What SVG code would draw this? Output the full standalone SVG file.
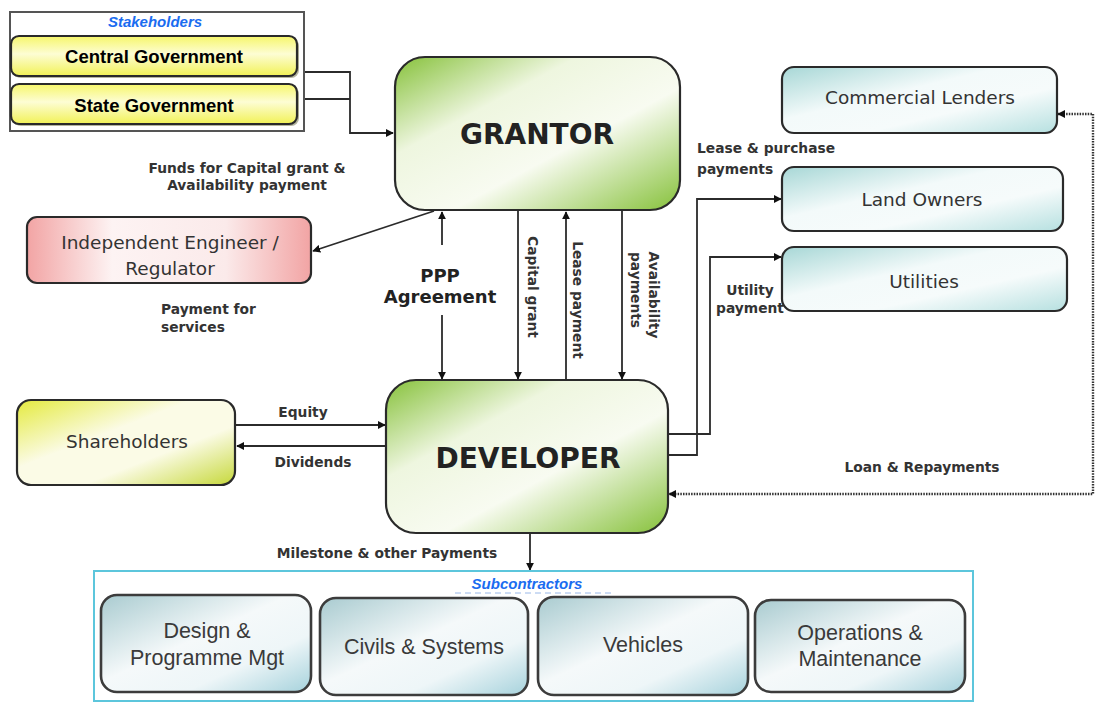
<svg xmlns="http://www.w3.org/2000/svg" width="1095" height="702" viewBox="0 0 1095 702">
<defs>
  <linearGradient id="gGreen" x1="0" y1="0" x2="1" y2="1">
    <stop offset="0" stop-color="#86c13a"/>
    <stop offset="0.32" stop-color="#eef6df"/>
    <stop offset="0.6" stop-color="#f8fbf1"/>
    <stop offset="1" stop-color="#86c13a"/>
  </linearGradient>
  <linearGradient id="gYellow" x1="0" y1="0" x2="0" y2="1">
    <stop offset="0" stop-color="#f6f66a"/>
    <stop offset="0.45" stop-color="#fdfdd4"/>
    <stop offset="1" stop-color="#f2f256"/>
  </linearGradient>
  <linearGradient id="gShare" x1="0" y1="0" x2="1" y2="1">
    <stop offset="0" stop-color="#e4ea3e"/>
    <stop offset="0.4" stop-color="#fbfbe6"/>
    <stop offset="0.65" stop-color="#fbfbe6"/>
    <stop offset="1" stop-color="#c6d83a"/>
  </linearGradient>
  <linearGradient id="gPink" x1="0" y1="0" x2="1" y2="0">
    <stop offset="0" stop-color="#f2a4a4"/>
    <stop offset="0.3" stop-color="#fdf3f3"/>
    <stop offset="0.7" stop-color="#fbeaea"/>
    <stop offset="1" stop-color="#f2a4a4"/>
  </linearGradient>
  <linearGradient id="gTeal" x1="0" y1="0" x2="1" y2="1">
    <stop offset="0" stop-color="#a7d7d6"/>
    <stop offset="0.4" stop-color="#f3fafa"/>
    <stop offset="0.65" stop-color="#f6fbfb"/>
    <stop offset="1" stop-color="#b6e0e0"/>
  </linearGradient>
  <linearGradient id="gSub" x1="0" y1="0" x2="1" y2="1">
    <stop offset="0" stop-color="#a9cbd0"/>
    <stop offset="0.45" stop-color="#f5f9fa"/>
    <stop offset="0.7" stop-color="#eef6f8"/>
    <stop offset="1" stop-color="#a6d2dc"/>
  </linearGradient>
  <marker id="arr" viewBox="0 0 10 10" refX="9" refY="5" markerWidth="8" markerHeight="8" markerUnits="userSpaceOnUse" orient="auto-start-reverse">
    <path d="M0,0 L10,5 L0,10 z" fill="#111"/>
  </marker>
  <style>
    .box { stroke: #2a2a2a; stroke-width: 2.2; }
    .sub { stroke: #3c3c3c; stroke-width: 2.6; fill: url(#gSub); }
    .con { fill: none; stroke: #2b2b2b; stroke-width: 1.8; }
    .dot { fill: none; stroke: #333; stroke-width: 2.4; stroke-dasharray: 1.5 1.2; }
    .lbl { font-family: "DejaVu Sans", Verdana, sans-serif; font-weight: bold; font-size: 13.8px; fill: #333; }
    .nt { font-family: "DejaVu Sans", Verdana, sans-serif; font-size: 18.5px; fill: #333; text-anchor: middle; }
    .big { font-family: "DejaVu Sans", Verdana, sans-serif; font-weight: bold; font-size: 28px; fill: #222; text-anchor: middle; }
    .gov { font-family: "Liberation Sans", Arial, sans-serif; font-weight: bold; font-size: 18.5px; fill: #000; text-anchor: middle; }
    .ttl { font-family: "Liberation Sans", Arial, sans-serif; font-weight: bold; font-style: italic; font-size: 15px; fill: #1a6cf0; text-anchor: middle; }
    .st { font-family: "Liberation Sans", Arial, sans-serif; font-size: 21.5px; fill: #3a3a3a; text-anchor: middle; }
  </style>
</defs>
<rect width="1095" height="702" fill="#ffffff"/>

<g id="connectors">
  <path class="con" d="M304,72 H350 V133 H393" marker-end="url(#arr)"/>
  <path class="con" d="M304,99 H350"/>
  <path class="con" d="M434,211 L313,251" marker-end="url(#arr)"/>
  <path class="con" d="M442,245 V212" marker-end="url(#arr)"/>
  <path class="con" d="M442,315 V379" marker-end="url(#arr)"/>
  <path class="con" d="M518,211 V379" marker-end="url(#arr)"/>
  <path class="con" d="M566,379 V212" marker-end="url(#arr)"/>
  <path class="con" d="M622,211 V379" marker-end="url(#arr)"/>
  <path class="con" d="M668,455 H697 V199 H781" marker-end="url(#arr)"/>
  <path class="con" d="M668,434 H710 V257 H781" marker-end="url(#arr)"/>
  <path class="con" d="M236,425 H385" marker-end="url(#arr)"/>
  <path class="con" d="M385,446 H237" marker-end="url(#arr)"/>
  <path class="con" d="M530,534 V570" marker-end="url(#arr)"/>
  <path class="dot" d="M1058,114 H1093 V494 H669" marker-start="url(#arr)" marker-end="url(#arr)"/>
</g>

<g id="labels">
  <text class="lbl" x="247" y="173" text-anchor="middle">Funds for Capital grant &amp;</text>
  <text class="lbl" x="247" y="190" text-anchor="middle">Availability payment</text>
  <text class="lbl" x="161" y="314">Payment for</text>
  <text class="lbl" x="161" y="332">services</text>
  <text class="lbl" x="697" y="153">Lease &amp; purchase</text>
  <text class="lbl" x="697" y="174">payments</text>
  <text class="lbl" x="750" y="295" text-anchor="middle">Utility</text>
  <text class="lbl" x="750" y="313" text-anchor="middle">payment</text>
  <text class="lbl" x="303" y="417" text-anchor="middle">Equity</text>
  <text class="lbl" x="313" y="467" text-anchor="middle">Dividends</text>
  <text class="lbl" x="387" y="558" text-anchor="middle">Milestone &amp; other Payments</text>
  <text class="lbl" x="922" y="472" text-anchor="middle">Loan &amp; Repayments</text>
  <text class="lbl" x="440" y="282" text-anchor="middle" style="font-size:18px;fill:#222">PPP</text>
  <text class="lbl" x="440" y="303" text-anchor="middle" style="font-size:18px;fill:#222">Agreement</text>
  <text class="lbl" transform="translate(533,287) rotate(90)" text-anchor="middle" dominant-baseline="central">Capital grant</text>
  <text class="lbl" transform="translate(578,300) rotate(90)" text-anchor="middle" dominant-baseline="central">Lease payment</text>
  <text class="lbl" transform="translate(654,295) rotate(90)" text-anchor="middle" dominant-baseline="central">Availability</text>
  <text class="lbl" transform="translate(636,290) rotate(90)" text-anchor="middle" dominant-baseline="central">payments</text>
</g>

<g id="stakeholders">
  <rect x="10" y="12" width="294" height="119" fill="#fff" stroke="#555" stroke-width="2"/>
  <text class="ttl" x="155" y="27">Stakeholders</text>
</g>
<g id="central-government">
  <rect x="13" y="38" width="286" height="40" rx="8" fill="#6a6a40" opacity="0.5"/>
  <rect x="11" y="36" width="286" height="40" rx="8" class="box" fill="url(#gYellow)"/>
  <text class="gov" x="154" y="63">Central Government</text>
</g>
<g id="state-government">
  <rect x="13" y="86" width="286" height="40" rx="8" fill="#6a6a40" opacity="0.5"/>
  <rect x="11" y="84" width="286" height="40" rx="8" class="box" fill="url(#gYellow)"/>
  <text class="gov" x="154" y="112">State Government</text>
</g>

<g id="grantor">
  <rect x="395" y="57" width="285" height="153" rx="30" class="box" fill="url(#gGreen)"/>
  <text class="big" x="537" y="144">GRANTOR</text>
</g>

<g id="independent-engineer">
  <rect x="27" y="217" width="284" height="66" rx="10" class="box" fill="url(#gPink)"/>
  <text class="nt" x="170" y="249">Independent Engineer /</text>
  <text class="nt" x="170" y="275">Regulator</text>
</g>

<g id="developer">
  <rect x="386" y="380" width="282" height="153" rx="30" class="box" fill="url(#gGreen)"/>
  <text class="big" x="528" y="468">DEVELOPER</text>
</g>

<g id="shareholders">
  <rect x="17" y="400" width="218" height="85" rx="14" class="box" fill="url(#gShare)"/>
  <text class="nt" x="127" y="448">Shareholders</text>
</g>

<g id="commercial-lenders">
  <rect x="782" y="67" width="275" height="66" rx="12" class="box" fill="url(#gTeal)"/>
  <text class="nt" x="920" y="104">Commercial Lenders</text>
</g>
<g id="land-owners">
  <rect x="782" y="167" width="281" height="64" rx="12" class="box" fill="url(#gTeal)"/>
  <text class="nt" x="922" y="206">Land Owners</text>
</g>
<g id="utilities">
  <rect x="782" y="247" width="285" height="64" rx="12" class="box" fill="url(#gTeal)"/>
  <text class="nt" x="924" y="288">Utilities</text>
</g>

<g id="subcontractors">
  <rect x="94" y="571" width="879" height="130" fill="#fff" stroke="#5cc6dc" stroke-width="2"/>
  <rect x="440" y="573" width="180" height="20" fill="#fff"/>
  <line x1="455" y1="593" x2="612" y2="593" stroke="#9ab8e8" stroke-width="1" stroke-dasharray="6 4"/>
  <text class="ttl" x="527" y="589">Subcontractors</text>
</g>
<g id="design-programme">
  <rect x="101" y="595" width="210" height="97" rx="16" class="sub"/>
  <text class="st" x="207" y="638">Design &amp;</text>
  <text class="st" x="207" y="665">Programme Mgt</text>
</g>
<g id="civils-systems">
  <rect x="320" y="598" width="208" height="97" rx="16" class="sub"/>
  <text class="st" x="424" y="654">Civils &amp; Systems</text>
</g>
<g id="vehicles">
  <rect x="538" y="597" width="210" height="98" rx="16" class="sub"/>
  <text class="st" x="643" y="652">Vehicles</text>
</g>
<g id="operations-maintenance">
  <rect x="755" y="600" width="210" height="92" rx="16" class="sub"/>
  <text class="st" x="860" y="640">Operations &amp;</text>
  <text class="st" x="860" y="666">Maintenance</text>
</g>
</svg>
